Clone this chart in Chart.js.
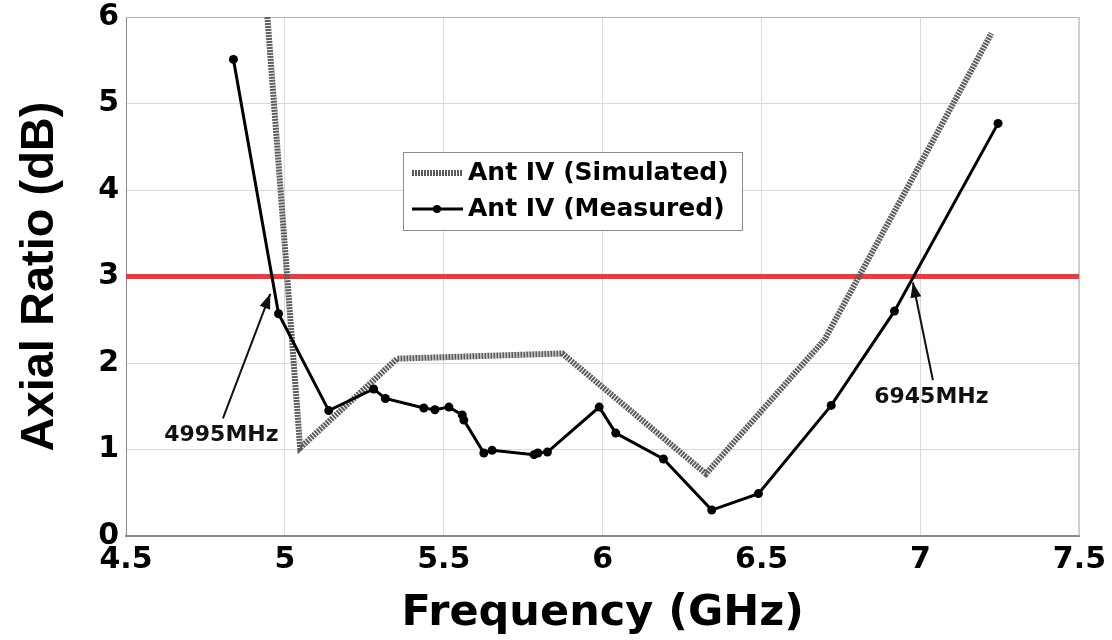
<!DOCTYPE html>
<html>
<head>
<meta charset="utf-8">
<script src="https://cdn.jsdelivr.net/npm/chart.js@4.4.0/dist/chart.umd.min.js"></script>
<style>
  body { margin: 0; background: #fff; }
</style>
</head>
<body>
<canvas id="arCanvas" width="1112" height="640"></canvas>
<script>
// values: frequency in GHz, axial ratio in dB
var simFreq = [4.945, 5.048, 5.353, 5.873, 6.325, 6.698, 7.223];
var simAR = [6.0, 1.02, 2.05, 2.11, 0.72, 2.27, 5.81];

var measFreq = [4.838, 4.980, 5.138, 5.279, 5.316, 5.437, 5.472, 5.516, 5.558, 5.563, 5.626, 5.652,
  5.784, 5.796, 5.826, 5.989, 6.041, 6.191, 6.343, 6.490, 6.719, 6.918, 7.244];
var measAR = [5.51, 2.57, 1.45, 1.70, 1.59, 1.48, 1.46, 1.49, 1.40, 1.34, 0.96, 0.99,
  0.94, 0.96, 0.97, 1.49, 1.19, 0.89, 0.30, 0.49, 1.51, 2.60, 4.77];

var limitFreq = [4.5, 7.5];
var limitAR = [3, 3];

var xTicks = [4.5, 5, 5.5, 6, 6.5, 7, 7.5];
var yTicks = [0, 1, 2, 3, 4, 5, 6];

var seriesNames = ['Ant IV (Simulated)', 'Ant IV (Measured)'];
var calloutText = ['4995MHz', '6945MHz'];

// callout geometry in data units: arrow tip, arrow tail, label centre
var callouts = [
  { tip: [4.954, 2.80], tail: [4.805, 1.36], label: [4.80, 1.17] },
  { tip: [6.976, 2.93], tail: [7.039, 1.80], label: [7.034, 1.60] }
];

var SIM_COLOR = '#5c5c5c';
var BOLD = 'bold 25px "DejaVu Sans"';

function toXY(xs, ys) {
  return xs.map((x, i) => ({ x: x, y: ys[i] }));
}

function arrow(ctx, x0, y0, x1, y1) {
  ctx.beginPath();
  ctx.moveTo(x0, y0);
  ctx.lineTo(x1, y1);
  ctx.stroke();
  var a = Math.atan2(y1 - y0, x1 - x0);
  var len = 15, half = 5.5;
  ctx.beginPath();
  ctx.moveTo(x1, y1);
  ctx.lineTo(x1 - len * Math.cos(a) + half * Math.sin(a), y1 - len * Math.sin(a) - half * Math.cos(a));
  ctx.lineTo(x1 - len * Math.cos(a) - half * Math.sin(a), y1 - len * Math.sin(a) + half * Math.cos(a));
  ctx.closePath();
  ctx.fill();
}

var extras = {
  id: 'extras',
  beforeDatasetsDraw(chart) {
    // top / right frame like the matlab box
    var ctx = chart.ctx, a = chart.chartArea;
    ctx.save();
    ctx.strokeStyle = '#b5b5b5';
    ctx.lineWidth = 1;
    ctx.beginPath();
    ctx.moveTo(a.left, a.top + 0.5);
    ctx.lineTo(a.right - 0.5, a.top + 0.5);
    ctx.lineTo(a.right - 0.5, a.bottom);
    ctx.stroke();
    ctx.restore();
  },
  afterDatasetsDraw(chart) {
    var ctx = chart.ctx;
    var xs = chart.scales.x, ys = chart.scales.y;
    ctx.save();
    ctx.strokeStyle = '#111';
    ctx.fillStyle = '#111';
    ctx.lineWidth = 2;
    callouts.forEach((c, i) => {
      arrow(ctx, xs.getPixelForValue(c.tail[0]), ys.getPixelForValue(c.tail[1]),
        xs.getPixelForValue(c.tip[0]), ys.getPixelForValue(c.tip[1]));
      ctx.font = 'bold 22px "DejaVu Sans"';
      ctx.textAlign = 'center';
      ctx.textBaseline = 'middle';
      ctx.fillText(calloutText[i], xs.getPixelForValue(c.label[0]), ys.getPixelForValue(c.label[1]));
    });

    // legend box inside the plot
    var bx = 403, by = 152, bw = 339, bh = 78;
    ctx.fillStyle = '#fff';
    ctx.fillRect(bx, by, bw, bh);
    ctx.strokeStyle = '#8c8c8c';
    ctx.lineWidth = 1;
    ctx.strokeRect(bx + 0.5, by + 0.5, bw, bh);

    ctx.strokeStyle = SIM_COLOR;
    ctx.lineWidth = 6;
    ctx.setLineDash([2, 1]);
    ctx.beginPath();
    ctx.moveTo(412, 173);
    ctx.lineTo(463, 173);
    ctx.stroke();
    ctx.setLineDash([]);

    ctx.strokeStyle = '#000';
    ctx.fillStyle = '#000';
    ctx.lineWidth = 3;
    ctx.beginPath();
    ctx.moveTo(412, 209);
    ctx.lineTo(463, 209);
    ctx.stroke();
    ctx.beginPath();
    ctx.arc(437, 209, 4, 0, Math.PI * 2);
    ctx.fill();

    ctx.font = BOLD;
    ctx.textAlign = 'left';
    ctx.textBaseline = 'middle';
    ctx.fillText(seriesNames[0], 468, 173);
    ctx.fillText(seriesNames[1], 468, 209);
    ctx.restore();
  }
};

new Chart(
  document.getElementById('arCanvas'),
  {
    type: 'line',
    data: {
      datasets: [
        {
          label: seriesNames[1],
          data: toXY(measFreq, measAR),
          borderColor: '#000',
          backgroundColor: '#000',
          borderWidth: 3,
          pointRadius: 4.5,
          pointBorderWidth: 0,
          order: 0
        },
        {
          label: seriesNames[0],
          data: toXY(simFreq, simAR),
          borderColor: SIM_COLOR,
          borderWidth: 6,
          borderDash: [2, 1],
          pointRadius: 0,
          order: 1
        },
        {
          label: '3 dB',
          data: toXY(limitFreq, limitAR),
          borderColor: '#ec3a3e',
          borderWidth: 5,
          pointRadius: 0,
          order: 2
        }
      ]
    },
    options: {
      responsive: false,
      animation: false,
      layout: { padding: { top: 17, right: 32, left: 0, bottom: 0 } },
      plugins: {
        legend: { display: false },
        tooltip: { enabled: false }
      },
      scales: {
        x: {
          type: 'linear',
          min: 4.5,
          max: 7.5,
          afterBuildTicks: s => { s.ticks = xTicks.map(v => ({ value: v })); },
          afterFit: s => { s.height = 104; },
          grid: { color: '#dadada', drawTicks: false },
          border: { color: '#8a8a8a', width: 2 },
          ticks: {
            padding: 6,
            color: '#000',
            callback: v => String(v),
            font: { family: 'DejaVu Sans', size: 30, weight: 'bold' }
          },
          title: {
            display: true,
            text: 'Frequency (GHz)',
            color: '#000',
            font: { family: 'DejaVu Sans', size: 43, weight: 'bold' },
            padding: { top: 0, bottom: 0 }
          }
        },
        y: {
          min: 0,
          max: 6,
          afterBuildTicks: s => { s.ticks = yTicks.map(v => ({ value: v })); },
          afterFit: s => { s.width = 126; },
          grid: { color: '#dadada', drawTicks: false },
          border: { color: '#8a8a8a', width: 1 },
          ticks: {
            padding: 7,
            color: '#000',
            callback: v => String(v),
            font: { family: 'DejaVu Sans', size: 30, weight: 'bold', lineHeight: 0.5 }
          },
          title: {
            display: true,
            text: 'Axial Ratio (dB)',
            color: '#000',
            font: { family: 'Liberation Sans', size: 47, weight: 'bold' },
            padding: { top: 12, bottom: 0 }
          }
        }
      }
    },
    plugins: [extras]
  }
);
</script>
</body>
</html>
